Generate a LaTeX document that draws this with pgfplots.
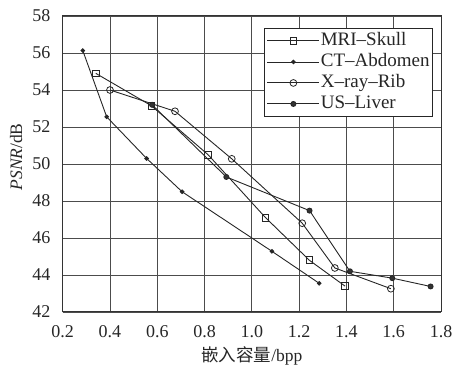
\documentclass[border=0pt]{standalone}
\usepackage{fontspec}
\setmainfont{Liberation Serif}
\newfontfamily\cjk{Noto Sans CJK SC}
\usepackage{pgfplots}
\pgfplotsset{compat=1.18}
\begin{document}
\begin{tikzpicture}
\begin{axis}[
  scale only axis, width=378.3pt, height=296pt,
  xmin=0.2, xmax=1.8, ymin=42, ymax=58,
  xtick={0.2,0.4,0.6,0.8,1.0,1.2,1.4,1.6,1.8},
  xticklabels={0.2,0.4,0.6,0.8,1.0,1.2,1.4,1.6,1.8},
  ytick={42,44,46,48,50,52,54,56,58},
  /pgf/number format/assume math mode=true,
  tick label style={font=\fontsize{18}{18}\selectfont, text=black!85},
  xticklabel style={inner sep=0pt, anchor=north, yshift=-13pt},
  yticklabel style={inner sep=0pt, anchor=east, xshift=-12pt},
  grid=major,
  major grid style={draw=black!70, line width=0.7pt},
  axis line style={line width=1pt, draw=black!80},
  tick style={draw=black!70, line width=0.7pt},
  tick align=inside,
  xlabel={{\cjk 嵌入容量}/bpp},
  ylabel={\textit{PSNR}/dB},
  label style={font=\fontsize{17.5}{17.5}\selectfont, text=black!85},
  xlabel style={at={(axis description cs:0.5,-0.1486)}, anchor=center},
  ylabel style={at={(axis description cs:-0.1234,0.524)}, anchor=center},
  legend style={at={(1,1)}, anchor=north east, xshift=-8pt, yshift=-12pt,
    draw=black!85, line width=0.9pt, fill=white,
    font=\fontsize{19}{21}\selectfont, text=black!85,
    inner xsep=2pt, inner ysep=2pt, row sep=0pt,
    nodes={inner xsep=1pt, inner ysep=2pt, text height=13pt, text depth=4pt}},
  legend cell align=left,
  legend image code/.code={\draw[mark repeat=2, mark phase=2] plot coordinates {(0pt,0pt) (26pt,0pt) (52pt,0pt)};},
  every axis plot/.append style={line width=0.9pt, draw=black!85},
]
\addplot[mark=square, mark size=3.3pt, mark options={solid, fill=white, line width=0.8pt}] coordinates {
  (0.34,54.9) (0.575,53.15) (0.815,50.5) (1.058,47.1) (1.243,44.8) (1.394,43.4)};
\addlegendentry{MRI\textendash Skull}
\addplot[mark=*, mark size=1.8pt, mark options={fill=black!85}] coordinates {
  (0.285,56.13) (0.386,52.55) (0.555,50.3) (0.705,48.5) (1.085,45.28) (1.285,43.55)};
\addlegendentry{CT\textendash Abdomen}
\addplot[mark=o, mark size=3.4pt, mark options={solid, fill=white, line width=0.8pt}] coordinates {
  (0.40,54.0) (0.675,52.85) (0.915,50.28) (1.213,46.8) (1.351,44.38) (1.588,43.26)};
\addlegendentry{X\textendash ray\textendash Rib}
\addplot[mark=*, mark size=2.5pt, mark options={fill=black!80}] coordinates {
  (0.578,53.2) (0.892,49.3) (1.244,47.48) (1.415,44.2) (1.594,43.83) (1.756,43.38)};
\addlegendentry{US\textendash Liver}
\end{axis}
\pgfresetboundingbox
\path (current axis.south west) ++(-62.7pt,-55pt) rectangle ++(453pt,367pt);
\end{tikzpicture}
\end{document}
